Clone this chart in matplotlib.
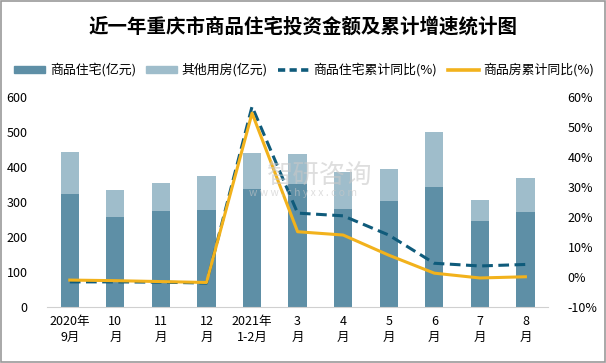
import numpy as np
import matplotlib.pyplot as plt
from matplotlib.lines import Line2D
from matplotlib.patches import Patch, Rectangle

plt.rcParams['font.family'] = ['Noto Sans CJK SC', 'DejaVu Sans']

months = ["2020年\n9月", "10\n月", "11\n月", "12\n月", "2021年\n1-2月", "3\n月",
          "4\n月", "5\n月", "6\n月", "7\n月", "8\n月"]
residential = [323, 256, 274, 277, 338, 352, 280, 302, 343, 245, 271]
other = [121, 78, 80, 98, 103, 86, 107, 93, 158, 60, 98]
res_yoy = [-1.6, -1.6, -1.7, -2.0, 56.8, 21.3, 20.4, 14.0, 4.6, 3.7, 4.2]
all_yoy = [-1.0, -1.2, -1.5, -1.8, 54.6, 15.1, 14.0, 7.3, 1.3, -0.3, 0.1]

c_res = '#5e8fa6'
c_other = '#9fbdcb'
c_dash = '#0f5b7b'
c_yel = '#f2b21c'

fig = plt.figure(figsize=(6.06, 3.63), dpi=100)
fig.patches.append(Rectangle((0.001, 0.002), 0.997, 0.995, transform=fig.transFigure,
                             fill=False, edgecolor='#999999', linewidth=1.2))

ax = fig.add_axes([0.0776, 0.154, 0.827, 0.579])
x = np.arange(len(months))
ax.bar(x, residential, width=0.4, color=c_res, zorder=2)
ax.bar(x, other, width=0.4, bottom=residential, color=c_other, zorder=2)
ax.set_xlim(-0.5, len(months) - 0.5)
ax.set_ylim(0, 600)
ax.set_yticks(range(0, 601, 100))
ax.set_xticks(x)
ax.set_xticklabels(months, fontsize=9, linespacing=1.3)
ax.tick_params(axis='x', length=0, pad=6)
ax.tick_params(axis='y', length=0, labelsize=9, pad=14)
for s in ['top', 'right', 'left']:
    ax.spines[s].set_visible(False)
ax.spines['bottom'].set_color('#d0d0d0')

ax2 = ax.twinx()
ax2.plot(x, res_yoy, color=c_dash, linewidth=2.2, linestyle=(0, (3.5, 1.8)), zorder=3)
ax2.plot(x, all_yoy, color=c_yel, linewidth=2.2, zorder=4)
ax2.set_ylim(-10, 60)
ax2.set_yticks(range(-10, 61, 10))
ax2.set_yticklabels([f"{v}%" for v in range(-10, 61, 10)])
ax2.tick_params(axis='y', length=0, labelsize=9, pad=14)
for s in ['top', 'right', 'left', 'bottom']:
    ax2.spines[s].set_visible(False)

# watermark
fig.text(0.528, 0.518, "智研咨询", fontsize=19, color='#c8c8c8', alpha=0.6,
         ha='center', va='center', zorder=0)
fig.text(0.50, 0.468, "w w w . c h y x x . c o m", fontsize=7.5, color='#c8c8c8',
         alpha=0.6, ha='center', va='center', zorder=0)

fig.text(0.5, 0.926, "近一年重庆市商品住宅投资金额及累计增速统计图", fontsize=14,
         fontweight='bold', ha='center', va='center')

handles = [Patch(color=c_res), Patch(color=c_other),
           Line2D([], [], color=c_dash, linewidth=2.6, linestyle=(0, (2, 1.2))),
           Line2D([], [], color=c_yel, linewidth=2.6)]
labels = ["商品住宅(亿元)", "其他用房(亿元)", "商品住宅累计同比(%)", "商品房累计同比(%)"]
fig.legend(handles, labels, loc='center', bbox_to_anchor=(0.502, 0.807), ncol=4,
           frameon=False, fontsize=9.3, handlelength=2.4, handleheight=0.45,
           columnspacing=0.8, handletextpad=0.35, borderaxespad=0.0)

plt.savefig("out.png", dpi=100)
